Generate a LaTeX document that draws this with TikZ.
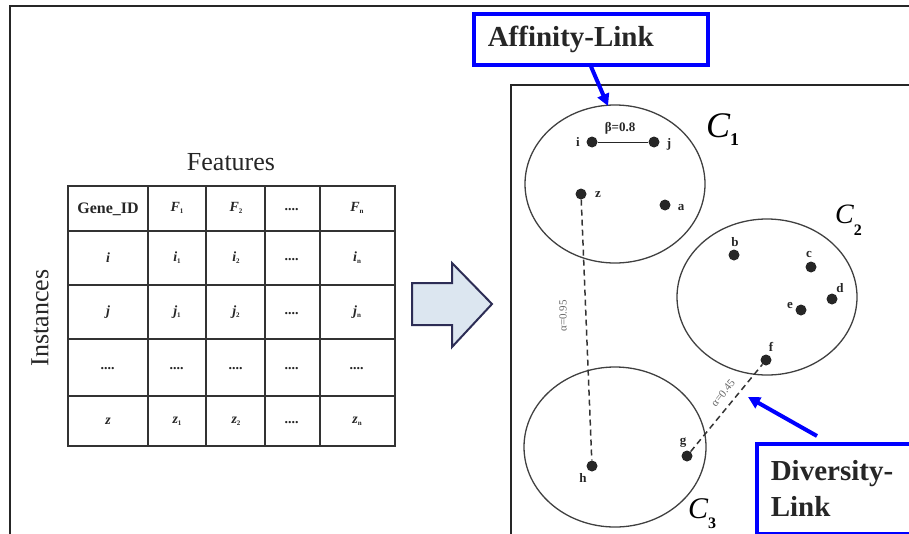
\documentclass[tikz,border=0pt]{standalone}
\usepackage{fontspec}
\setmainfont{Liberation Serif}
\usetikzlibrary{arrows.meta,shapes.geometric}

% small lowered index used in the table cells
\newcommand\idx[1]{\raisebox{-2pt}{\fontsize{7}{7}\selectfont\upshape #1}}
% cluster name: large italic C with a lowered number
\newcommand\clname[4]{{\fontsize{#1}{#1}\selectfont\itshape C}\raisebox{-#3pt}{\fontsize{#2}{#2}\selectfont\bfseries #4}}

\tikzset{
  frameline/.style={line width=2pt, draw=black!85},
  gridline/.style={line width=1.3pt, draw=black!80},
  cell/.style={inner sep=0pt, text=black!85, font=\fontsize{14}{14}\selectfont\bfseries\itshape},
  headcell/.style={inner sep=0pt, text=black!85, font=\fontsize{16}{16}\selectfont\bfseries},
  title/.style={inner sep=0pt, text=black!85, font=\fontsize{26}{26}\selectfont},
  cluster/.style={ellipse, draw=black!75, line width=1.3pt, inner sep=0pt},
  member/.style={circle, fill=black!85, inner sep=0pt, minimum size=11pt},
  memberlabel/.style={inner sep=0pt, text=black!85, font=\fontsize{13}{13}\selectfont\bfseries},
  linkbox/.style={draw=blue, line width=3.5pt, text=black!85, align=left,
    font=\fontsize{29}{36}\selectfont\bfseries},
  callout/.style={draw=blue, line width=4pt, -{Triangle[length=12pt,width=12pt]}},
  distline/.style={draw=black!80, line width=1.5pt, dash pattern=on 6pt off 4pt},
  distlabel/.style={inner sep=0pt, text=black!60, font=\fontsize{11}{11}\selectfont},
  clustername/.style={inner sep=0pt, anchor=base west, text=black}
}

\begin{document}
\begin{tikzpicture}[x=1pt,y=-1pt]
\useasboundingbox (0,0) rectangle (909,533);
\clip (0,0) rectangle (909,533);

% outer frame
\draw[frameline] (10,540) -- (10,6) -- (920,6);

% ---------------- feature table ----------------
\node[title] (features) at (231,162) {Features};
\node[title, rotate=90] (instances) at (40,318) {Instances};

\draw[gridline] (68,186) rectangle (395,446);
\foreach \x in {148,206,265,320} \draw[gridline] (\x,186) -- (\x,446);
\foreach \y in {231,285,339,396} \draw[gridline] (68,\y) -- (395,\y);

% header row
\node[headcell] (gid) at (108,209) {Gene\_ID};
\node[cell] (hf1) at (177,208) {F\idx{1}};
\node[cell] (hf2) at (236,208) {F\idx{2}};
\node[cell] (hdots) at (292,210) {....};
\node[cell] (hfn) at (357,208) {F\idx{n}};
% row i
\node[cell] (ri) at (108,258) {i};
\node[cell] (ri1) at (177,258) {i\idx{1}};
\node[cell] (ri2) at (236,258) {i\idx{2}};
\node[cell] (ridots) at (292,260) {....};
\node[cell] (rin) at (357,258) {i\idx{n}};
% row j
\node[cell] (rj) at (108,312) {j};
\node[cell] (rj1) at (177,312) {j\idx{1}};
\node[cell] (rj2) at (236,312) {j\idx{2}};
\node[cell] (rjdots) at (292,314) {....};
\node[cell] (rjn) at (357,312) {j\idx{n}};
% elided row
\foreach \x/\n in {108/a,177/b,236/c,292/d,357/e}
  \node[cell] (gap\n) at (\x,369) {....};
% row z
\node[cell] (rz) at (108,421) {z};
\node[cell] (rz1) at (177,421) {z\idx{1}};
\node[cell] (rz2) at (236,421) {z\idx{2}};
\node[cell] (rzdots) at (292,423) {....};
\node[cell] (rzn) at (357,421) {z\idx{n}};

% ---------------- transition arrow ----------------
\draw[line width=2pt, draw={rgb,255:red,45;green,45;blue,85},
      fill={rgb,255:red,220;green,230;blue,240}, line join=miter]
  (412,283) -- (452,283) -- (452,263) -- (492,304) -- (452,347)
  -- (452,325) -- (412,325) -- cycle;

% ---------------- cluster panel ----------------
\draw[frameline] (511,540) -- (511,85) -- (920,85);

\node[cluster, minimum width=180pt, minimum height=158pt] (c1) at (615,184) {};
\node[cluster, minimum width=180pt, minimum height=156pt] (c2) at (767,297) {};
\node[cluster, minimum width=182pt, minimum height=160pt] (c3) at (615,447) {};

\node[clustername] (c1name) at (706,137) {\clname{36}{18}{8}{1}};
\node[clustername] (c2name) at (835,223) {\clname{28}{16}{12}{2}};
\node[clustername] (c3name) at (688,518) {\clname{30}{16}{10}{3}};

% members of C1
\node[member] (i) at (592,142) {};
\node[member] (j) at (654,142) {};
\node[member] (z) at (581,194) {};
\node[member] (a) at (665,205) {};
\node[memberlabel] (ilab) at (578,142) {i};
\node[memberlabel] (jlab) at (669,144) {j};
\node[memberlabel] (zlab) at (598,195) {z};
\node[memberlabel] (alab) at (681,208) {a};

% members of C2
\node[member] (b) at (734,255) {};
\node[member] (c) at (811,267) {};
\node[member] (d) at (832,299) {};
\node[member] (e) at (801,310) {};
\node[member] (f) at (766,360) {};
\node[memberlabel] (blab) at (735,242) {b};
\node[memberlabel] (clab) at (809,254) {c};
\node[memberlabel] (dlab) at (840,288) {d};
\node[memberlabel] (elab) at (790,305) {e};
\node[memberlabel] (flab) at (771,347) {f};

% members of C3
\node[member] (h) at (592,466) {};
\node[member] (g) at (687,456) {};
\node[memberlabel] (hlab) at (583,478) {h};
\node[memberlabel] (glab) at (683,443) {g};

% links between members
\draw[line width=1pt, draw=black!85] (i) -- (j);
\node[memberlabel] (beta) at (620,128) {β=0.8};
\draw[distline] (z) -- (h);
\node[distlabel, rotate=90] (alpha1) at (563,316) {α=0.95};
\draw[distline] (g) -- (f);
\node[distlabel, rotate=51] (alpha2) at (723,393) {α=0.45};

% ---------------- callouts ----------------
\node[linkbox, anchor=north west, minimum height=51pt, inner xsep=14pt,
      text width=206pt] (affinity) at (472,12) {Affinity-Link};
\draw[callout] (affinity.south -| 591,0) -- (608,106);

\node[linkbox, anchor=north west, minimum height=90pt, inner xsep=14pt,
      text width=150pt] (diversity) at (755,442) {Diversity-\\Link};
\coordinate (dtail) at (817,436);
\draw[callout] (dtail) -- (748,397);

\end{tikzpicture}
\end{document}
